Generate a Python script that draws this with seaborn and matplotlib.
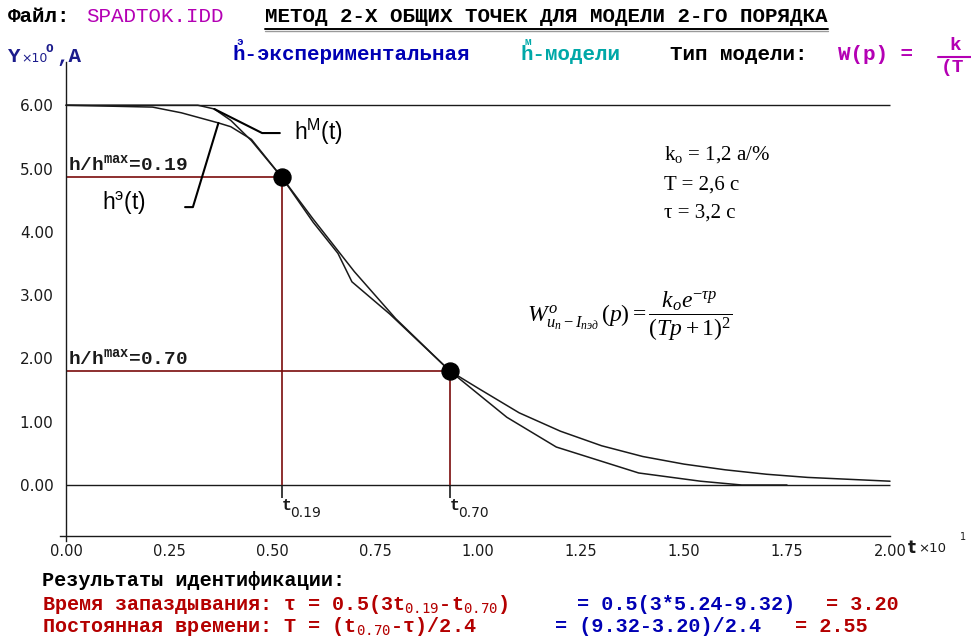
import numpy as np
import matplotlib
matplotlib.use("Agg")
import matplotlib.pyplot as plt
from matplotlib.lines import Line2D
import seaborn as sns

# Step response of the current (A) versus time (t x 10 s)
t_model = [0.00, 0.32, 0.36, 0.40, 0.45, 0.524, 0.60, 0.70, 0.80, 0.932, 1.00,
           1.10, 1.20, 1.30, 1.40, 1.50, 1.60, 1.70, 1.80, 1.90, 2.00]
h_model = [6.00, 6.00, 5.94, 5.76, 5.44, 4.86, 4.20, 3.37, 2.63, 1.80, 1.53,
           1.14, 0.85, 0.62, 0.45, 0.33, 0.24, 0.17, 0.12, 0.09, 0.06]

t_exp = [0.00, 0.21, 0.28, 0.37, 0.40, 0.45, 0.524, 0.60, 0.66, 0.694, 0.786,
         0.932, 1.07, 1.19, 1.39, 1.54, 1.64, 1.75]
h_exp = [6.00, 5.97, 5.88, 5.72, 5.66, 5.46, 4.86, 4.15, 3.66, 3.21, 2.70,
         1.80, 1.07, 0.60, 0.19, 0.06, 0.00, 0.00]

h_max = 6.0
levels = [0.19, 0.70]          # h/h_max at the two common points
level_names = ["0.19", "0.70"]
t_levels = [5.24, 9.32]        # t_0.19 and t_0.70, s

x_ticks = [0.00, 0.25, 0.50, 0.75, 1.00, 1.25, 1.50, 1.75, 2.00]
x_tick_labels = ["0.00", "0.25", "0.50", "0.75", "1.00", "1.25", "1.50", "1.75", "2.00"]
y_ticks = [0, 1, 2, 3, 4, 5, 6]
y_tick_labels = ["0.00", "1.00", "2.00", "3.00", "4.00", "5.00", "6.00"]

k_o, T_par, tau_par = 1.2, 2.6, 3.2

# identification results of the two-point method
tau_id = 0.5 * (3 * t_levels[0] - t_levels[1])
T_id = (t_levels[1] - tau_id) / 2.4

RED = "#b40000"
BLUE = "#0000b4"
NAVY = "#1c1c8c"
TEAL = "#00a8a8"
MAGENTA = "#b400b4"
MAROON = "#7a0c0c"
INK = "#1a1a1a"
MONO = ["Liberation Mono", "DejaVu Sans Mono", "DejaVu Sans"]

sns.set_style("white")
plt.rcParams["font.family"] = ["DejaVu Sans"]
plt.rcParams["mathtext.rm"] = "Liberation Serif"
plt.rcParams["mathtext.it"] = "Liberation Serif:italic"
plt.rcParams["mathtext.bf"] = "Liberation Serif:bold"

W, H = 971, 638
fig = plt.figure(figsize=(W / 100, H / 100), dpi=100)
fig.patch.set_facecolor("white")
ax = fig.add_axes([0, 0, 1, 1])
ax.set_facecolor("white")

X0, SX, Y0, SY = 66, 412.0, 485, 63.3
ax.set_xlim(-X0 / SX, (W - X0) / SX)
ax.set_ylim((Y0 - H) / SY, Y0 / SY)


def fxy(x, y):
    return x / W, 1 - y / H


# axes drawn as crossing lines
x_axis_level = -0.80
ax.spines[["top", "right"]].set_visible(False)
ax.spines["left"].set_position(("data", 0))
ax.spines["left"].set_bounds(x_axis_level - 0.09, 6.68)
ax.spines["bottom"].set_position(("data", x_axis_level))
ax.spines["bottom"].set_bounds(-0.015, 2.0)
for sp in ("left", "bottom"):
    ax.spines[sp].set_color(INK)
    ax.spines[sp].set_linewidth(1.0)
ax.set_xticks(x_ticks, x_tick_labels)
ax.set_yticks(y_ticks, y_tick_labels)
ax.tick_params(axis="x", direction="inout", length=10, width=1, pad=1.0,
               labelsize=10.5, color=INK, labelcolor=INK)
ax.tick_params(axis="y", direction="inout", length=12, width=1, pad=3,
               labelsize=11, color=INK, labelcolor=INK)
for lab in ax.get_xticklabels():
    lab.set_fontfamily(["Liberation Sans Narrow", "DejaVu Sans"])
ax.set_xlabel("")
ax.set_ylabel("")

# steady-state and zero levels
ax.hlines([h_max, 0.0], 0, x_ticks[-1], color=INK, lw=1.0, zorder=2)

# common points and their construction lines
t_pts = [v / 10 for v in t_levels]
h_pts = [h_max * (1 - lv) for lv in levels]
for tp, hp, name in zip(t_pts, h_pts, level_names):
    ax.hlines(hp, 0, tp, color=MAROON, lw=1.2, zorder=2)
    ax.vlines(tp, 0, hp, color=MAROON, lw=1.2, zorder=2)
    ax.vlines(tp, -0.2, 0, color=INK, lw=1.2, zorder=2)
    ax.text(0.006, hp + 0.04, r"h/h$^{\mathregular{max}}$=" + name,
            ha="left", va="bottom", fontsize=14, fontweight="bold",
            family=MONO, color=INK)
    ax.annotate("t", xy=(tp, -0.2), xytext=(0, 0), textcoords="offset points",
                ha="left", va="top", fontsize=12, fontweight="bold",
                family=MONO, color=INK)
    ax.annotate(name, xy=(tp, -0.2), xytext=(6, -6), textcoords="offset points",
                ha="left", va="top", fontsize=10,
                family=["Liberation Sans Narrow", "DejaVu Sans"], color=INK)

# response curves
sns.lineplot(x=t_exp, y=h_exp, ax=ax, color=INK, lw=1.1, sort=False,
             estimator=None, zorder=3)
sns.lineplot(x=t_model, y=h_model, ax=ax, color=INK, lw=1.1, sort=False,
             estimator=None, zorder=3)
sns.scatterplot(x=t_pts, y=h_pts, ax=ax, s=150, color="black",
                edgecolor="black", zorder=5)

# curve labels with leader lines
tip_m = (t_model[2], h_model[2])
ax.plot([tip_m[0], 0.476, 0.519], [tip_m[1], 5.56, 5.56], color="black",
        lw=1.5, zorder=4)
ax.text(0.553, 5.58, r"$\mathregular{h^{М}(t)}$", fontsize=16.5,
        family="Liberation Sans", va="center", ha="left", color="black")
tip_e = (t_exp[3], h_exp[3])
ax.plot([tip_e[0], 0.308, 0.289], [tip_e[1], 4.39, 4.39], color="black",
        lw=1.5, zorder=4)
ax.text(0.195, 4.45, r"$\mathregular{h^{э}(t)}$", fontsize=16.5,
        family="Liberation Sans", va="center", ha="right", color="black")

# model parameters
par_kw = dict(fontsize=15, family="Liberation Serif", color="black",
              ha="left", va="baseline")
fig.text(*fxy(664, 160), r"k$_\mathregular{o}$ = " + f"{k_o:.1f}".replace(".", ",") + " а/%", **par_kw)
fig.text(*fxy(664, 190), "T = " + f"{T_par:.1f}".replace(".", ",") + " с", **par_kw)
fig.text(*fxy(664, 218), "τ = " + f"{tau_par:.1f}".replace(".", ",") + " с", **par_kw)

fig.text(*fxy(527, 316),
         r"$W^{o}_{u_{п}-I_{пэд}}\,(p)=\dfrac{k_{o}e^{-\tau p}}{(Tp+1)^{2}}$",
         fontsize=17, math_fontfamily="custom", ha="left", va="center",
         color="black")

# header
hdr = dict(va="center", ha="left", family=MONO, fontsize=15)
fig.text(*fxy(8, 17), "Файл:", fontweight="bold", color="black", **hdr)
fig.text(*fxy(86, 17), "SPADTOK.IDD", color=MAGENTA, **hdr)
title = fig.text(*fxy(265, 17), "МЕТОД 2-Х ОБЩИХ ТОЧЕК ДЛЯ МОДЕЛИ 2-ГО ПОРЯДКА",
                 fontweight="bold", color="black", **hdr)

fig.text(*fxy(8, 57), "Y", fontweight="bold", color=NAVY, **hdr)
fig.text(*fxy(21, 58), "×10", color=NAVY, va="center", ha="left",
         family="DejaVu Sans", fontsize=9)
fig.text(*fxy(45, 49), "0", color=NAVY, va="center", ha="left",
         family="DejaVu Sans", fontsize=8, fontweight="bold")
fig.text(*fxy(56, 57), ",A", fontweight="bold", color=NAVY, **hdr)

fig.text(*fxy(232, 55), "h-экспериментальная", fontweight="bold", color=BLUE, **hdr)
fig.text(*fxy(236, 42), "э", fontweight="bold", color=BLUE, va="center",
         ha="left", family=MONO, fontsize=8)
fig.text(*fxy(520, 55), "h-модели", fontweight="bold", color=TEAL, **hdr)
fig.text(*fxy(524, 42), "м", fontweight="bold", color=TEAL, va="center",
         ha="left", family=MONO, fontsize=8)
fig.text(*fxy(670, 55), "Тип модели:", fontweight="bold", color="black", **hdr)
fig.text(*fxy(838, 55), "W(p) =", fontweight="bold", color=MAGENTA, **hdr)
fig.text(*fxy(949, 46), "k", fontweight="bold", color=MAGENTA, va="center",
         ha="left", family=MONO, fontsize=14)
fig.text(*fxy(941, 68), "(T", fontweight="bold", color=MAGENTA, va="center",
         ha="left", family=MONO, fontsize=14)
fig.add_artist(Line2D([938 / W, 1.0], [1 - 57 / H] * 2, color=MAGENTA, lw=1.5))

# x-axis caption
fig.text(*fxy(908, 548), "t", fontweight="bold", color=INK, va="center",
         ha="left", family="DejaVu Sans", fontsize=12)
fig.text(*fxy(918, 549), "×10", color=INK, va="center", ha="left",
         family="DejaVu Sans", fontsize=9.5)
fig.text(*fxy(960, 537), "1", color=INK, va="center", ha="left",
         family="DejaVu Sans", fontsize=7)

# identification results
res = dict(va="center", ha="left", family=MONO, fontsize=14.5, fontweight="bold")
fig.text(*fxy(42, 580), "Результаты идентификации:", color="black", **res)
fig.text(*fxy(42, 605),
         r"Время запаздывания: τ = 0.5(3t$_{\mathtt{0.19}}$-t$_{\mathtt{0.70}}$)",
         color=RED, math_fontfamily="dejavusans", **res)
fig.text(*fxy(577, 605),
         f"= 0.5(3*{t_levels[0]:.2f}-{t_levels[1]:.2f})", color=BLUE, **res)
fig.text(*fxy(826, 605), f"= {tau_id:.2f}", color=RED, **res)
fig.text(*fxy(42, 626),
         r"Постоянная времени: T = (t$_{\mathtt{0.70}}$-τ)/2.4",
         color=RED, math_fontfamily="dejavusans", **res)
fig.text(*fxy(555, 626),
         f"= ({t_levels[1]:.2f}-{tau_id:.2f})/2.4", color=BLUE, **res)
fig.text(*fxy(795, 626), f"= {T_id:.2f}", color=RED, **res)

# underline the title
fig.canvas.draw()
bb = title.get_window_extent()
y_ul = bb.y0 - 2
fig.add_artist(Line2D([bb.x0 / W, bb.x1 / W], [y_ul / H] * 2, color="black", lw=1.4))
fig.add_artist(Line2D([bb.x0 / W, bb.x1 / W], [(y_ul - 2) / H] * 2, color="#9a9a9a", lw=1.0))

fig.savefig("out.png", dpi=100, facecolor="white")
